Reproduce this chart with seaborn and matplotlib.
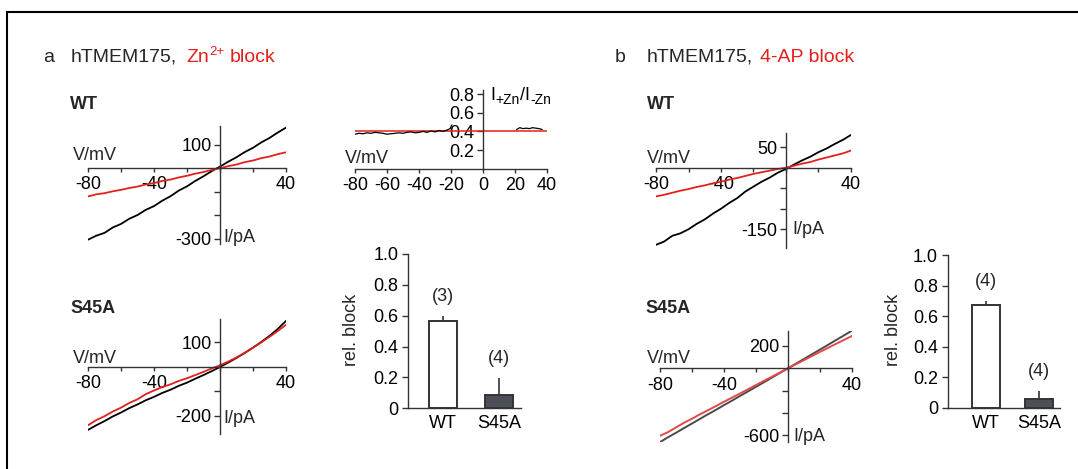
import matplotlib
matplotlib.use('Agg')
import matplotlib.pyplot as plt
from matplotlib.lines import Line2D
import seaborn as sns

# ---- data ----
v_mv = list(range(-80, 45, 5))

# a: Zn2+ block, current in pA
zn_wt_ctrl = [-305, -288, -276, -253, -238, -216, -200, -178, -162, -139, -120, -96, -78,
              -55, -35, -13, 6, 27, 46, 68, 86, 109, 128, 151, 172]
zn_wt_zn = [-121, -112, -107, -99, -93, -85, -79, -70, -64, -55, -49, -40, -33,
            -24, -17, -8, -1, 8, 15, 25, 32, 42, 49, 59, 67]
zn_s45a_ctrl = [-257, -238, -221, -202, -186, -168, -153, -136, -122, -106, -93, -77, -64,
                -48, -33, -17, 0, 18, 37, 57, 79, 102, 127, 155, 188]
zn_s45a_zn = [-238, -217, -201, -182, -166, -147, -132, -111, -96, -82, -71, -57, -46,
              -33, -20, -6, 7, 22, 39, 58, 79, 100, 123, 147, 172]

# a: I+Zn / I-Zn ratio (gap around reversal)
ratio_v_neg = [-80, -77.5, -75, -72.5, -70, -67.5, -65, -62.5, -60, -57.5, -55, -52.5, -50,
               -47.5, -45, -42.5, -40, -37.5, -35, -32.5, -30, -27.5, -25, -22.5, -20.5, -19.5]
ratio_neg = [0.37, 0.38, 0.375, 0.385, 0.38, 0.39, 0.385, 0.38, 0.37, 0.375, 0.38, 0.385, 0.38,
             0.39, 0.395, 0.385, 0.39, 0.40, 0.39, 0.405, 0.395, 0.41, 0.40, 0.415, 0.43, 0.47]
ratio_v_pos = [21, 23, 25, 27, 29, 31, 33, 35, 37]
ratio_pos = [0.42, 0.44, 0.43, 0.435, 0.43, 0.44, 0.435, 0.43, 0.42]
ratio_fit = 0.4

# b: 4-AP block, current in pA
ap_wt_ctrl = [-188, -180, -166, -160, -150, -137, -126, -112, -100, -86, -74, -58, -46,
              -34, -24, -12, -3, 8, 18, 27, 38, 47, 58, 68, 80]
ap_wt_ap = [-70, -66, -61, -56, -52, -47, -43, -38, -34, -29, -25, -20, -15,
            -11, -7, -3, 0, 5, 10, 14, 20, 25, 30, 35, 42]
ap_s45a_ctrl = [-662, -618, -578, -536, -495, -453, -412, -372, -330, -290, -248, -207, -166,
                -125, -83, -41, 0, 42, 84, 126, 168, 210, 253, 295, 338]
ap_s45a_ap = [-605, -572, -530, -488, -452, -412, -376, -338, -300, -263, -226, -188, -150,
              -112, -75, -37, 0, 37, 73, 110, 147, 183, 219, 255, 290]

# relative block bars
groups = ['WT', 'S45A']
zn_block = [0.565, 0.087]
zn_err = [0.035, 0.108]
zn_n = ['(3)', '(4)']
ap_block = [0.672, 0.055]
ap_err = [0.028, 0.055]
ap_n = ['(4)', '(4)']

iv_xticks = [-80, -60, -40, -20, 0, 20, 40]
iv_xlabels = ['-80', '', '-40', '', '', '', '40']

RED = '#e3201c'
DARK = '#333333'

sns.set_theme(style='ticks')
plt.rcParams['font.family'] = ['Liberation Sans', 'DejaVu Sans']
plt.rcParams['font.size'] = 13
plt.rcParams['axes.edgecolor'] = DARK
plt.rcParams['axes.linewidth'] = 1.0
plt.rcParams['xtick.color'] = DARK
plt.rcParams['ytick.color'] = DARK
plt.rcParams['xtick.labelcolor'] = 'black'
plt.rcParams['ytick.labelcolor'] = 'black'

W, H = 1078, 469
fig = plt.figure(figsize=(W / 100, H / 100), dpi=100)
fig.patch.set_facecolor('white')
renderer = fig.canvas.get_renderer()


def px_axes(left, right, top, bottom):
    return fig.add_axes([left / W, 1 - bottom / H, (right - left) / W, (bottom - top) / H])


def px_text(x, y, s, **kw):
    return fig.text(x / W, 1 - y / H, s, **kw)


def px_runs(x, y, runs):
    # runs of (text, size, baseline shift px, colour, gap after px), laid out left to right
    for s, size, dy, color, gap in runs:
        t = px_text(x, y + dy, s, va='baseline', fontsize=size, color=color)
        x += t.get_window_extent(renderer=renderer).width + gap


def iv_plot(box, ylim, yticks, ylabels, traces):
    ax = px_axes(*box)
    for vals, color, lw in traces:
        sns.lineplot(x=v_mv, y=vals, ax=ax, color=color, lw=lw, estimator=None)
    ax.set_xlim(-80, 40)
    ax.set_ylim(*ylim)
    ax.spines[['top', 'right']].set_visible(False)
    ax.spines['left'].set_position(('data', 0))
    ax.spines['bottom'].set_position(('data', 0))
    ax.set_xticks(iv_xticks, iv_xlabels)
    ax.set_yticks(yticks, ylabels)
    ax.tick_params(axis='x', direction='out', length=3, width=1, pad=3, labelsize=13)
    ax.tick_params(axis='y', direction='out', length=4, width=1, pad=2, labelsize=13)
    ax.set_xlabel('')
    ax.set_ylabel('')
    ax.patch.set_visible(False)
    return ax


def bar_plot(box, xlim, vals, errs, ns, width):
    ax = px_axes(*box)
    sns.barplot(x=groups, y=vals, hue=groups, palette=['white', '#4b4e56'], width=width,
                edgecolor=DARK, linewidth=1.4, legend=False, ax=ax)
    ax.errorbar([0, 1], vals, yerr=[[0, 0], errs], fmt='none', ecolor=DARK,
                elinewidth=1.2, capsize=0)
    for i, (m, e, n) in enumerate(zip(vals, errs, ns)):
        ax.text(i, m + e + 0.125, n, ha='center', va='center', fontsize=13)
    ax.set_xlim(*xlim)
    ax.set_ylim(0, 1.0)
    ax.spines[['top', 'right']].set_visible(False)
    ax.set_yticks([0, 0.2, 0.4, 0.6, 0.8, 1.0], ['0', '0.2', '0.4', '0.6', '0.8', '1.0'])
    ax.tick_params(axis='y', direction='out', length=4, width=1, pad=3, labelsize=13)
    ax.tick_params(axis='x', length=0, pad=5, labelsize=13)
    ax.set_xlabel('')
    ax.set_ylabel('')
    ax.patch.set_visible(False)
    return ax


# ---- frame ----
fig.add_artist(Line2D([7 / W, 1], [1 - 12 / H] * 2, transform=fig.transFigure, color='black', lw=1.5))
fig.add_artist(Line2D([7 / W] * 2, [0, 1 - 12 / H], transform=fig.transFigure, color='black', lw=1.5))

# ---- panel a ----
px_text(43, 62, 'a', va='baseline', fontsize=14)
px_text(71, 62, 'hTMEM175,', va='baseline', fontsize=14)
px_runs(186, 62, [('Zn', 14, 0, RED, 0.5), ('2+', 9.5, -7, RED, 5), ('block', 14, 0, RED, 0)])

px_text(70, 109, 'WT', va='baseline', fontsize=13, fontweight='bold')
iv_plot((88, 286, 126.2, 244.4), (-325, 178), [100, -100, -200, -300], ['100', '', '', '-300'],
        [(zn_wt_ctrl, 'black', 1.3), (zn_wt_zn, RED, 1.3)])
px_text(73, 156, 'V/mV', va='center')
px_text(223, 237, 'I/pA', va='center')

px_text(70, 313, 'S45A', va='baseline', fontsize=13, fontweight='bold')
iv_plot((88, 286, 319.2, 433.6), (-272, 195), [100, -100, -200], ['100', '', '-200'],
        [(zn_s45a_ctrl, 'black', 1.3), (zn_s45a_zn, RED, 1.3)])
px_text(73, 358, 'V/mV', va='center')
px_text(223, 418, 'I/pA', va='center')

# ratio plot
ax_r = px_axes(355, 547, 90.3, 168.8)
sns.lineplot(x=[-80, 40], y=[ratio_fit, ratio_fit], ax=ax_r, color=RED, lw=1.1)
sns.lineplot(x=ratio_v_neg, y=ratio_neg, ax=ax_r, color='black', lw=0.9, estimator=None)
sns.lineplot(x=ratio_v_pos, y=ratio_pos, ax=ax_r, color='black', lw=0.9, estimator=None)
ax_r.set_xlim(-80, 40)
ax_r.set_ylim(0, 0.84)
ax_r.spines[['top', 'right']].set_visible(False)
ax_r.spines['left'].set_position(('data', 0))
ax_r.set_xticks(iv_xticks, ['-80', '-60', '-40', '-20', '0', '20', '40'])
ax_r.set_yticks([0.2, 0.4, 0.6, 0.8], ['0.2', '0.4', '0.6', '0.8'])
ax_r.tick_params(axis='x', direction='out', length=3, width=1, pad=3, labelsize=13)
ax_r.tick_params(axis='y', direction='out', length=4, width=1, pad=2, labelsize=13)
ax_r.set_xlabel('')
ax_r.set_ylabel('')
ax_r.patch.set_visible(False)
px_text(345, 158, 'V/mV', va='center')
px_runs(490, 100, [('I', 13, 0, 'black', 0.5), ('+Zn', 10, 4, 'black', 0.5),
                   ('/I', 13, 0, 'black', 0.5), ('-Zn', 10, 4, 'black', 0)])

bar_plot((408, 521, 254, 408.3), (-0.625, 1.39), zn_block, zn_err, zn_n, 0.5)
px_text(352, 330, 'rel. block', rotation=90, ha='center', va='center')

# ---- panel b ----
px_text(615, 62, 'b', va='baseline', fontsize=14)
px_text(647, 62, 'hTMEM175,', va='baseline', fontsize=14)
px_text(760, 62, '4-AP block', va='baseline', fontsize=14, color=RED)

px_text(647, 109, 'WT', va='baseline', fontsize=13, fontweight='bold')
iv_plot((656, 851, 133.3, 248.1), (-196, 84), [50, -50, -100, -150], ['50', '', '', '-150'],
        [(ap_wt_ctrl, 'black', 1.3), (ap_wt_ap, RED, 1.3)])
px_text(647, 158, 'V/mV', va='center')
px_text(792, 230, 'I/pA', va='center')

px_text(645, 313, 'S45A', va='baseline', fontsize=13, fontweight='bold')
iv_plot((660, 852, 330.6, 441.7), (-658, 338), [200, -200, -400, -600], ['200', '', '', '-600'],
        [(ap_s45a_ctrl, '#4a4a4a', 1.4), (ap_s45a_ap, '#e24a48', 1.4)])
px_text(647, 358, 'V/mV', va='center')
px_text(793, 436, 'I/pA', va='center')

bar_plot((947.7, 1060, 255, 407.7), (-0.72, 1.4), ap_block, ap_err, ap_n, 0.53)
px_text(893, 330, 'rel. block', rotation=90, ha='center', va='center')

fig.savefig('out.png', dpi=100, facecolor='white')
